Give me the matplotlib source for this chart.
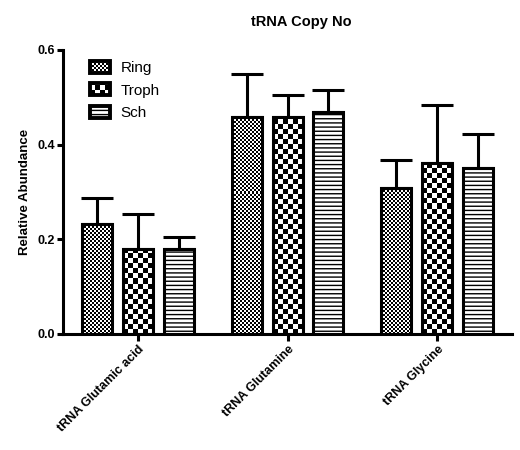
import numpy as np
import matplotlib
matplotlib.use("Agg")
import matplotlib.pyplot as plt

plt.rcParams['font.family'] = ['Liberation Sans', 'DejaVu Sans']
plt.rcParams['hatch.linewidth'] = 1.0

categories = ['tRNA Glutamic acid', 'tRNA Glutamine', 'tRNA Glycine']
series = ['Ring', 'Troph', 'Sch']
ring = [0.232, 0.459, 0.308]
troph = [0.180, 0.458, 0.362]
sch = [0.180, 0.469, 0.351]
ring_err = [0.055, 0.090, 0.060]
troph_err = [0.074, 0.047, 0.122]
sch_err = [0.025, 0.047, 0.072]
yticks = [0.0, 0.2, 0.4, 0.6]

values = [ring, troph, sch]
errors = [ring_err, troph_err, sch_err]
# checker cell size in pixels (None = horizontal lines hatch)
cells = [2, 5, None]

fig = plt.figure(figsize=(5.2, 4.5), dpi=100)
ax = fig.add_axes([0.121, 0.258, 0.864, 0.631])

x = np.arange(len(categories))
width = 0.2
step = 0.273
lw = 2.2

containers = []
for i, (name, vals, errs) in enumerate(zip(series, values, errors)):
    pos = x + (i - 1) * step
    bars = ax.bar(pos, vals, width, facecolor='none', edgecolor='black',
                  linewidth=lw, hatch='----' if cells[i] is None else None,
                  label=name, zorder=3)
    ax.errorbar(pos, vals, yerr=[np.zeros(len(vals)), errs], fmt='none',
                ecolor='black', elinewidth=lw, capsize=11.5, capthick=lw,
                zorder=2)
    containers.append(bars)

ax.set_xlim(-0.5, 2.5)
ax.set_ylim(0, 0.6)
ax.set_yticks(yticks)
ax.set_yticklabels([f'{t:.1f}' for t in yticks], fontweight='bold', fontsize=9)
ax.set_xticks(x)
ax.set_xticklabels(categories, rotation=45, ha='right', rotation_mode='anchor',
                   fontweight='bold', fontsize=9)
ax.tick_params(axis='y', length=4.5, width=lw, pad=1)
ax.tick_params(axis='x', length=5, width=lw, pad=2)
for s in ['top', 'right']:
    ax.spines[s].set_visible(False)
for s in ['left', 'bottom']:
    ax.spines[s].set_linewidth(lw)
ax.set_ylabel('Relative Abundance', fontweight='bold', fontsize=9.5, labelpad=5)
ax.set_title('tRNA Copy No', fontweight='bold', fontsize=10.5, pad=17, x=0.53)

leg = ax.legend(loc='upper left', bbox_to_anchor=(0.03, 1.01), frameon=False,
                fontsize=11, handlelength=1.3, handleheight=0.8,
                labelspacing=0.55, handletextpad=0.7)


def checker(cell, wpx, hpx):
    nc = int(np.ceil(wpx / cell)) + 1
    nr = int(np.ceil(hpx / cell)) + 1
    return (np.indices((nr, nc)).sum(axis=0) % 2).astype(float), nc * cell, nr * cell


fig.canvas.draw()
inv = ax.transData.inverted()
for bars, cell in zip(containers, cells):
    if cell is None:
        continue
    for b in bars:
        bb = b.get_window_extent()
        img, wp, hp = checker(cell, bb.width, bb.height)
        (x0, y0), (x1, y1) = inv.transform([(bb.x0, bb.y0), (bb.x0 + wp, bb.y0 + hp)])
        im = ax.imshow(img, cmap='gray', vmin=0, vmax=1, origin='lower',
                       extent=(x0, x1, y0, y1), interpolation='nearest',
                       aspect='auto', zorder=2.5)
        im.set_clip_path(b)

# fill legend handles with the same patterns
ax.set_xlim(-0.5, 2.5)
ax.set_ylim(0, 0.6)
inv_fig = fig.transFigure.inverted()
for p, cell in zip(leg.get_patches(), cells):
    p.set_linewidth(lw + 0.6)
    if cell is None:
        continue
    bb = p.get_window_extent()
    img, wp, hp = checker(cell, bb.width, bb.height)
    (x0, y0), (x1, y1) = inv_fig.transform([(bb.x0, bb.y0), (bb.x0 + wp, bb.y0 + hp)])
    im = ax.imshow(img, cmap='gray', vmin=0, vmax=1, origin='lower',
                   extent=(x0, x1, y0, y1), interpolation='nearest',
                   transform=fig.transFigure, aspect='auto', zorder=6)
    im.set_clip_path(p.get_path(), p.get_transform())
    im.set_clip_on(True)
leg.set_zorder(7)
ax.set_xlim(-0.5, 2.5)
ax.set_ylim(0, 0.6)

fig.savefig('out.png', dpi=100)
